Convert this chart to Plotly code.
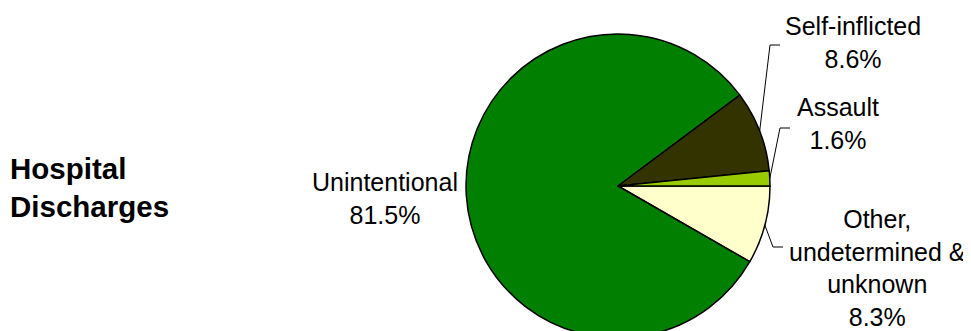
import numpy as np
import plotly.graph_objects as go

# ---- data ----
categories = ["Other, undetermined & unknown", "Unintentional", "Self-inflicted", "Assault"]
label_lines = ["Other,<br>undetermined &<br>unknown", "Unintentional", "Self-inflicted", "Assault"]
values = [8.3, 81.5, 8.6, 1.6]
colors = ["#FFFFCC", "#007F00", "#333300", "#99CC00"]
title_text = "Hospital<br>Discharges"

# ---- layout geometry (window pixels; page body adds an 8px offset) ----
OFF = 8
W, H = 971 - OFF, 331
pie_top, pie_bottom = 34, 338
r = (pie_bottom - pie_top) / 2
cx, cy = 618, pie_top + r

def px(x):
    return (x - OFF) / W

def py(y):
    return 1 - (y - OFF) / H

fig = go.Figure()
fig.add_trace(go.Pie(
    labels=categories,
    values=values,
    sort=False,
    direction="clockwise",
    rotation=90,
    marker=dict(colors=colors, line=dict(color="black", width=1.5)),
    textinfo="none",
    hoverinfo="label+percent",
    showlegend=False,
    domain=dict(x=[px(cx - r), px(cx + r)], y=[max(0, py(pie_bottom)), py(pie_top)]),
))

# label positions (centre of text block) and leader elbows, in pixels
label_pos = {
    "Other, undetermined & unknown": dict(x=877, y=268, elbow=(773, 247), end=(783, 247)),
    "Unintentional": dict(x=385, y=198, elbow=None, end=None),
    "Self-inflicted": dict(x=853, y=42, elbow=(770, 45), end=(780, 45)),
    "Assault": dict(x=838, y=124, elbow=(780, 128), end=(790, 128)),
}

total = sum(values)
start = 0.0  # degrees, measured clockwise from 3 o'clock
annotations = []
shapes = []
for cat, lines, v in zip(categories, label_lines, values):
    pct = v / total * 100
    mid = start + v / total * 360 / 2
    start += v / total * 360
    info = label_pos[cat]
    annotations.append(dict(
        x=px(info["x"]), y=py(info["y"]), xref="paper", yref="paper",
        text=f"{lines}<br>{pct:.1f}%", showarrow=False,
        xanchor="center", yanchor="middle", align="center",
        font=dict(family="Liberation Sans, Arial, sans-serif", size=25, color="black"),
    ))
    if info["elbow"] is not None:
        a = np.deg2rad(mid)
        sx = cx + r * np.cos(a)
        sy = cy + r * np.sin(a)
        ex, ey = info["elbow"]
        fx, fy = info["end"]
        shapes.append(dict(type="path", xref="paper", yref="paper",
                           path=f"M {px(sx)} {py(sy)} L {px(ex)} {py(ey)} L {px(fx)} {py(fy)}",
                           line=dict(color="black", width=1)))

annotations.append(dict(
    x=px(8), y=py(187), xref="paper", yref="paper",
    text=f"<b>{title_text}</b>", showarrow=False,
    xanchor="left", yanchor="middle", align="left",
    font=dict(family="Liberation Sans, Arial, sans-serif", size=29.5, color="black"),
))

fig.update_layout(
    width=W, height=H,
    margin=dict(l=0, r=0, t=0, b=0),
    paper_bgcolor="white", plot_bgcolor="white",
    annotations=annotations, shapes=shapes,
)

fig.write_html("out.html")
